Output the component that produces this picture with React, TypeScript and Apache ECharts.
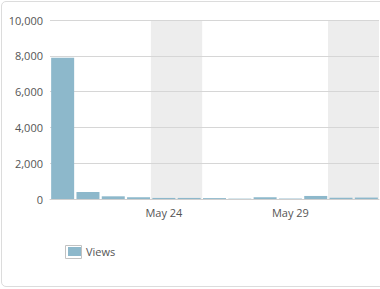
import React, { useEffect, useRef } from "react";
import * as echarts from "echarts";

const categories = ["May 20", "May 21", "May 22", "May 23", "May 24", "May 25", "May 26", "May 27", "May 28", "May 29", "May 30", "May 31", "Jun 1"];
const views = [7890, 390, 150, 100, 60, 60, 50, 20, 100, 25, 170, 70, 80];
const weekendDays = ["May 24", "May 25", "May 31", "Jun 1"];
const yTicks = [0, 2000, 4000, 6000, 8000, 10000];

const BAR = "#8db8cb";
const FONT = "'Open Sans', 'Noto Sans', sans-serif";

export default function App() {
  const ref = useRef<HTMLDivElement>(null);
  useEffect(() => {
    if (!ref.current) return;
    const chart = echarts.init(ref.current, null, { renderer: "svg" });
    const yMax = yTicks[yTicks.length - 1];
    chart.setOption({
      animation: false,
      textStyle: { fontFamily: FONT },
      grid: { left: 50, right: 1, top: 20, bottom: 90, containLabel: false },
      legend: {
        data: ["Views"],
        left: 68,
        top: 246,
        padding: 0,
        icon: "rect",
        itemWidth: 13,
        itemHeight: 9,
        itemGap: 5,
        textStyle: { fontSize: 11, color: "#555", fontFamily: FONT },
      },
      graphic: [
        {
          type: "rect",
          shape: { x: 65.5, y: 245.5, width: 16, height: 13 },
          style: { fill: "none", stroke: "#c2c2c2", lineWidth: 1 },
          silent: true,
        },
      ],
      xAxis: [
        {
          type: "category",
          data: categories,
          axisLine: { show: true, lineStyle: { color: "#cfcfcf" } },
          axisTick: { show: false },
          axisLabel: {
            interval: (i: number) => i % 5 === 4,
            color: "#555",
            fontSize: 11,
            margin: 8,
            fontFamily: FONT,
          },
        },
        {
          type: "category",
          data: categories,
          show: false,
        },
      ],
      yAxis: {
        type: "value",
        min: 0,
        max: yMax,
        interval: 2000,
        axisLine: { show: false },
        axisTick: { show: false },
        splitLine: { lineStyle: { color: "#d6d6d6" } },
        axisLabel: {
          color: "#555",
          fontSize: 11,
          margin: 7,
          fontFamily: FONT,
          formatter: (v: number) => v.toLocaleString("en-US"),
        },
      },
      series: [
        {
          name: "Weekend",
          type: "bar",
          xAxisIndex: 1,
          barWidth: 26,
          z: -1,
          silent: true,
          itemStyle: { color: "#ededed" },
          data: categories.map((c) => (weekendDays.includes(c) ? yMax : null)),
        },
        {
          name: "Views",
          type: "bar",
          xAxisIndex: 0,
          barWidth: 23,
          itemStyle: { color: BAR },
          data: views,
        },
      ],
    });
    return () => chart.dispose();
  }, []);

  return (
    <div style={{ position: "fixed", left: 0, top: 0, width: 380, height: 289, overflow: "hidden", background: "#fff" }}>
      <div
        style={{
          position: "absolute",
          left: 1,
          top: 1,
          width: 420,
          height: 286,
          border: "1px solid #dcdcdc",
          borderRadius: 5,
          boxSizing: "border-box",
        }}
      />
      <div ref={ref} style={{ position: "absolute", left: 0, top: 0, width: 380, height: 289 }} />
    </div>
  );
}
